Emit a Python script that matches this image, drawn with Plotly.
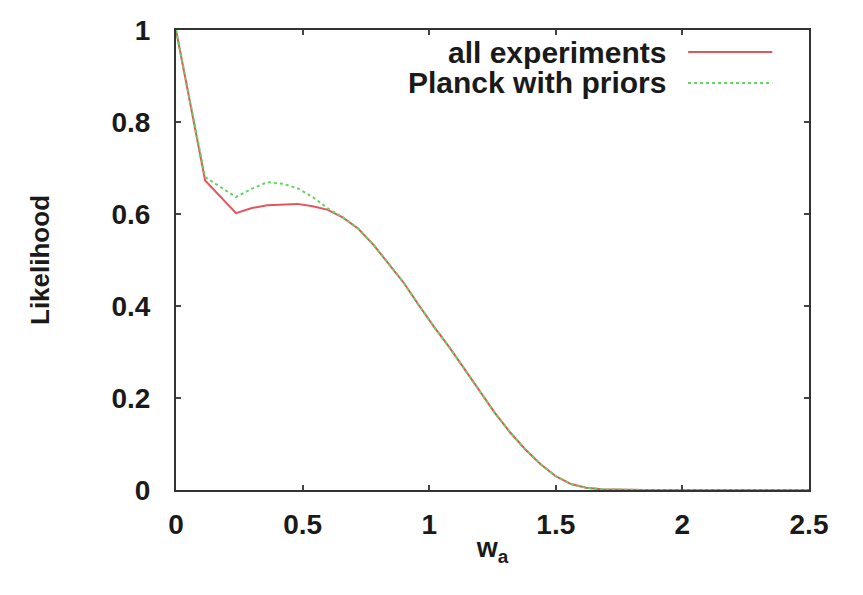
import plotly.graph_objects as go

# Marginalised likelihood of w_a
w_a = [0.0, 0.115, 0.237, 0.30, 0.36, 0.42, 0.48, 0.54, 0.60, 0.66, 0.72, 0.78,
       0.84, 0.90, 0.96, 1.02, 1.08, 1.14, 1.20, 1.26, 1.32, 1.38, 1.44, 1.50,
       1.56, 1.62, 1.68, 1.75, 1.85, 2.0, 2.25, 2.5]

all_experiments = [1.0, 0.673, 0.602, 0.613, 0.619, 0.621, 0.622, 0.617, 0.609,
                   0.592, 0.568, 0.533, 0.492, 0.450, 0.401, 0.354, 0.310, 0.262,
                   0.214, 0.167, 0.125, 0.088, 0.056, 0.030, 0.013, 0.005, 0.0015,
                   0.0004, 0.0, 0.0, 0.0, 0.0]

planck_priors = [1.0, 0.680, 0.637, 0.655, 0.669, 0.666, 0.656, 0.637, 0.612,
                 0.592, 0.568, 0.533, 0.492, 0.450, 0.401, 0.354, 0.310, 0.262,
                 0.214, 0.167, 0.125, 0.088, 0.056, 0.030, 0.013, 0.005, 0.0015,
                 0.0004, 0.0, 0.0, 0.0, 0.0]

series_names = ["all experiments", "Planck with priors"]
red = "rgb(226,86,92)"
green = "rgb(96,214,96)"

x_ticks = [0, 0.5, 1, 1.5, 2, 2.5]
x_tick_text = ["0", "0.5", "1", "1.5", "2", "2.5"]
y_ticks = [0, 0.2, 0.4, 0.6, 0.8, 1]
y_tick_text = ["0", "0.2", "0.4", "0.6", "0.8", "1"]

FONT = "Liberation Sans, Arial, sans-serif"
TXT = "#1a1a1a"

fig = go.Figure()
fig.add_trace(go.Scatter(x=w_a, y=all_experiments, mode="lines", name=series_names[0],
                         line=dict(color=red, width=2)))
fig.add_trace(go.Scatter(x=w_a, y=planck_priors, mode="lines", name=series_names[1],
                         line=dict(color=green, width=2, dash="dot")))

axis_common = dict(
    showline=True, linecolor="#333333", linewidth=2, mirror="allticks",
    ticks="inside", ticklen=5, tickwidth=1.5, tickcolor="#444444",
    showgrid=False, zeroline=False,
    tickfont=dict(family=FONT, size=28, color=TXT, weight="bold"),
)

fig.update_layout(
    width=863, height=595,
    margin=dict(l=176, r=54, t=30, b=105),
    paper_bgcolor="white", plot_bgcolor="white",
    showlegend=False,
    font=dict(family=FONT, color=TXT),
    xaxis=dict(range=[0, 2.5], tickvals=x_ticks, ticktext=x_tick_text,
               ticklabelstandoff=8,
               title=dict(text="w<sub>a</sub>", standoff=0,
                          font=dict(family=FONT, size=27, color=TXT, weight="bold")),
               **axis_common),
    yaxis=dict(range=[0, 1], tickvals=y_ticks, ticktext=y_tick_text,
               ticklabelstandoff=18,
               title=dict(text="Likelihood", standoff=54,
                          font=dict(family=FONT, size=26, color=TXT, weight="bold")),
               **axis_common),
)

# Key in the top-right corner: label on the left, line sample on the right
key_rows = [(0.952, red, "solid"), (0.885, green, "dot")]
for name, (ky, col, dash) in zip(series_names, key_rows):
    fig.add_annotation(x=0.777, y=ky, xref="paper", yref="paper",
                       text=name, showarrow=False,
                       xanchor="right", yanchor="middle",
                       font=dict(family=FONT, size=30, color=TXT, weight="bold"))
    fig.add_shape(type="line", xref="paper", yref="paper",
                  x0=0.809, x1=0.942, y0=ky, y1=ky,
                  line=dict(color=col, width=2, dash=dash))

fig.write_html("out.html")
